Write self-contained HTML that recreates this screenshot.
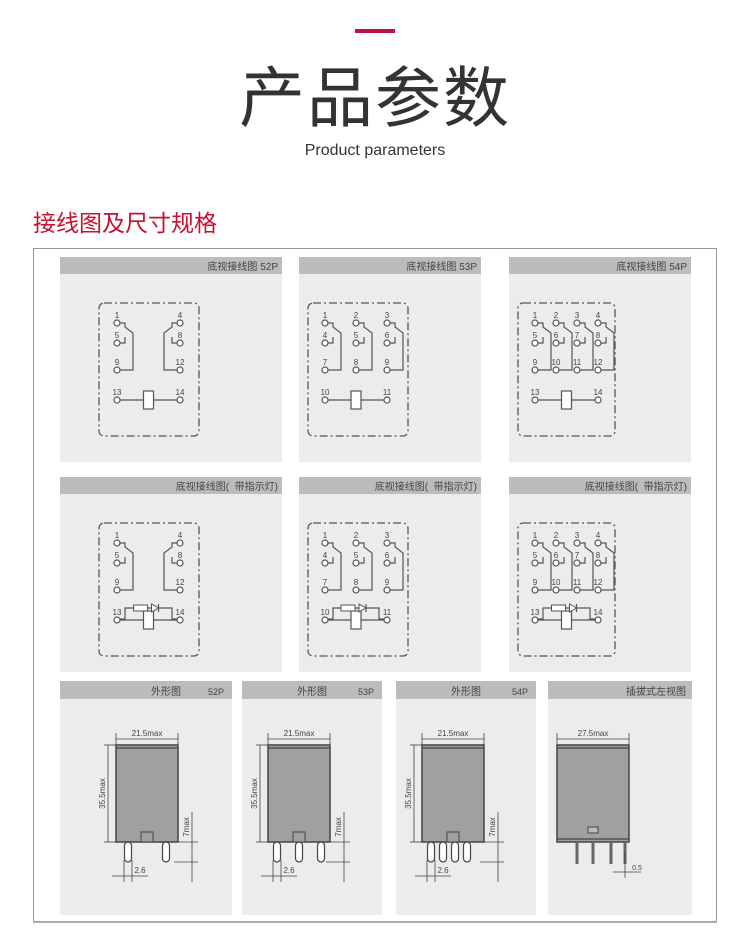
<!DOCTYPE html>
<html><head><meta charset="utf-8"><style>
body{margin:0;width:750px;height:945px;background:#fff;overflow:hidden;position:relative;font-family:"Liberation Sans","Noto Sans CJK SC",sans-serif}
.abs{position:absolute}
</style></head><body>
<div class="abs" style="left:355px;top:29px;width:40px;height:4px;background:#c0143c"></div>
<div class="abs" style="left:0;width:750px;top:58px;text-align:center;font-size:66px;color:#333;line-height:80px;letter-spacing:2px">产品参数</div>
<div class="abs" style="left:0;width:750px;top:142px;text-align:center;font-size:16px;color:#333">Product parameters</div>
<div class="abs" style="left:33px;top:204px;font-size:23px;color:#c8102e">接线图及尺寸规格</div>
<svg id="s" class="abs" style="left:0;top:0" width="750" height="945" xmlns="http://www.w3.org/2000/svg"></svg>
<script>
var o='';
function R(x,y,w,h,f,st,sw,extra){o+='<rect x="'+x+'" y="'+y+'" width="'+w+'" height="'+h+'" fill="'+f+'"'+(st?' stroke="'+st+'" stroke-width="'+(sw||1)+'"':'')+(extra||'')+'/>';}
function L(p,sw,c){o+='<polyline points="'+p+'" fill="none" stroke="'+(c||'#555')+'" stroke-width="'+(sw||1.2)+'"/>';}
function T(x,y,t,s,a,extra){o+='<text x="'+x+'" y="'+y+'" font-size="'+s+'" fill="#444" text-anchor="'+(a||'middle')+'"'+(extra||'')+'>'+t+'</text>';}
function C(x,y){o+='<circle cx="'+x+'" cy="'+y+'" r="3" fill="#fff" stroke="#555" stroke-width="1.2"/>';}
R(33.5,248.5,683,673,'#fff','#999',1);
function panel(x,y,w,h,title){R(x,y,w,h,'#ececec');R(x,y,w,17,'#bcbcbc');T(x+w-4,y+13,title,10,'end');}
function schem(bx,by,cols,led){
  var n=cols.length, w=(n==4)?97:100;
  o+='<rect x="'+bx+'" y="'+by+'" width="'+w+'" height="133" rx="5" fill="none" stroke="#555" stroke-width="1.3" stroke-dasharray="8,3,2,3"/>';
  var y1=by+20,y2=by+40,y3=by+67,y4=by+97;
  var lab1=n==2?['1','4']:(n==3?['1','2','3']:['1','2','3','4']);
  var lab2=n==2?['5','8']:(n==3?['4','5','6']:['5','6','7','8']);
  var lab3=n==2?['9','12']:(n==3?['7','8','9']:['9','10','11','12']);
  for(var i=0;i<n;i++){var x=cols[i];
    var right=(n==2&&i==1);
    C(x,y1);C(x,y2);C(x,y3);
    T(x,y1-5,lab1[i],8);T(x,y2-5,lab2[i],8);T(x,y3-5,lab3[i],8);
    var d=right?-1:1;
    L((x+3*d)+','+y1+' '+(x+8*d)+','+y1+' '+(x+8*d)+','+(y1+4)+' '+(x+16*d)+','+(y1+10)+' '+(x+16*d)+','+y3+' '+(x+3*d)+','+y3);
    L((x+3*d)+','+y2+' '+(x+8*d)+','+y2+' '+(x+8*d)+','+(y2-6));
  }
  var xa=cols[0],xb=cols[n-1],xm=(n==3)?cols[1]:(xa+xb)/2;
  var l4=n==3?['10','11']:['13','14'];
  var ca=xa, cb=xb;
  C(ca,y4);C(cb,y4);T(ca,y4-5,l4[0],8);T(cb,y4-5,l4[1],8);
  L((ca+3)+','+y4+' '+(xm-5)+','+y4);L((xm+5)+','+y4+' '+(cb-3)+','+y4);
  R(xm-5,y4-9,10,18,'#fff','#555',1.2);
  if(led){L((ca+3)+','+(y4-1)+' '+(ca+8)+','+(y4-1)+' '+(ca+8)+','+(y4-12)+' '+(cb-8)+','+(y4-12)+' '+(cb-8)+','+(y4-1)+' '+(cb-3)+','+(y4-1));
    R(xm-15,y4-15,14,6,'#fff','#555',1);o+='<polygon points="'+(xm+3)+','+(y4-16)+' '+(xm+3)+','+(y4-8)+' '+(xm+10)+','+(y4-12)+'" fill="#fff" stroke="#555"/>';L((xm+10)+','+(y4-16)+' '+(xm+10)+','+(y4-8));}
}
var heads=['底视接线图 52P','底视接线图 53P','底视接线图 54P'];
var px=[[60,222],[299,182],[509,182]];
for(var r=0;r<2;r++){
 var y=r?477:257,h=r?195:205;
 for(var j=0;j<3;j++){panel(px[j][0],y,px[j][1],h,r?'底视接线图(&#160;&#160;带指示灯)':heads[j]);}
 var sy=y+46;
 schem(99,sy,[117,180],r);
 schem(308,sy,[325,356,387],r);
 schem(518,sy,[535,556,577,598],r);
}
var p3=[[60,172,'外形图','52P',2],[242,140,'外形图','53P',3],[396,140,'外形图','54P',4],[548,144,'插拔式左视图','',0]];
p3.forEach(function(p){var x=p[0],w=p[1];R(x,681,w,234,'#ececec');R(x,681,w,18,'#bcbcbc');
 if(p[3]){T(x+w/2+(w>150?20:0),695,p[2],10);T(x+w-8,695,p[3],9,'end');}else T(x+w-6,695,p[2],10,'end');
 var bx,bw=62,by=745,bh=97;
 if(p[4]){bx=x+(w>150?56:26);if(w==140&&x==396)bx=422;}else{bx=x+9;bw=72;}
 R(bx,by,bw,bh,'#a0a0a0','#444',1.5);L(bx+','+(by+3)+' '+(bx+bw)+','+(by+3),1.2,'#444');
 var lab=p[4]?'21.5max':'27.5max';
 L(bx+','+(by-12)+' '+bx+','+by,0.8,'#444');L((bx+bw)+','+(by-12)+' '+(bx+bw)+','+by,0.8,'#444');
 L(bx+','+(by-6)+' '+(bx+bw)+','+(by-6),0.8,'#444');T(bx+bw/2,by-9,lab,8);
 if(p[4]){
  L((bx-12)+','+by+' '+bx+','+by,0.8,'#444');L((bx-12)+','+(by+bh)+' '+bx+','+(by+bh),0.8,'#444');
  L((bx-8)+','+by+' '+(bx-8)+','+(by+bh),0.8,'#444');
  T(bx-11,by+bh/2,'35.5max',8,'middle',' transform="rotate(-90 '+(bx-11)+' '+(by+bh/2)+')"');
  R(bx+bw/2-6,by+bh-10,12,10,'#a0a0a0','#444',1);
  var pins=p[4]==2?[bx+12,bx+bw-12]:(p[4]==3?[bx+9,bx+bw/2,bx+bw-9]:[bx+9,bx+21,bx+33,bx+45]);
  pins.forEach(function(q){o+='<rect x="'+(q-3.5)+'" y="'+(by+bh)+'" width="7" height="20" rx="3.5" fill="#fff" stroke="#444" stroke-width="1.2"/>';});
  var rx=bx+bw+14;L((bx+bw)+','+(by+bh)+' '+(rx+6)+','+(by+bh),0.8,'#444');L((bx+bw-4)+','+(by+bh+20)+' '+(rx+6)+','+(by+bh+20),0.8,'#444');
  L(rx+','+(by+bh-30)+' '+rx+','+(by+bh+40),0.8,'#444');T(rx-3,by+bh-15,'7max',8,'middle',' transform="rotate(-90 '+(rx-3)+' '+(by+bh-15)+')"');
  var q0=pins[0];L((q0-4)+','+(by+bh+18)+' '+(q0-4)+','+(by+bh+40),0.8,'#444');L((q0+4)+','+(by+bh+18)+' '+(q0+4)+','+(by+bh+40),0.8,'#444');
  L((q0-16)+','+(by+bh+34)+' '+(q0+20)+','+(by+bh+34),0.8,'#444');T(q0+12,by+bh+31,'2.6',8);
 }else{
  L(bx+','+(by+bh-3)+' '+(bx+bw)+','+(by+bh-3),1.2,'#444');
  R(bx+bw/2-5,by+bh-15,10,6,'#bbb','#444',1);
  [bx+20,bx+36,bx+54,bx+68].forEach(function(q){R(q-1.5,by+bh,3,22,'#666');});
  L((bx+68)+','+(by+bh+10)+' '+(bx+68)+','+(by+bh+36),0.8,'#444');L((bx+56)+','+(by+bh+30)+' '+(bx+84)+','+(by+bh+30),0.8,'#444');T(bx+80,by+bh+28,'0.5',7);
 }
});
R(33,921,684,2,'#aaa');
document.getElementById('s').innerHTML=o;
</script>
</body></html>
